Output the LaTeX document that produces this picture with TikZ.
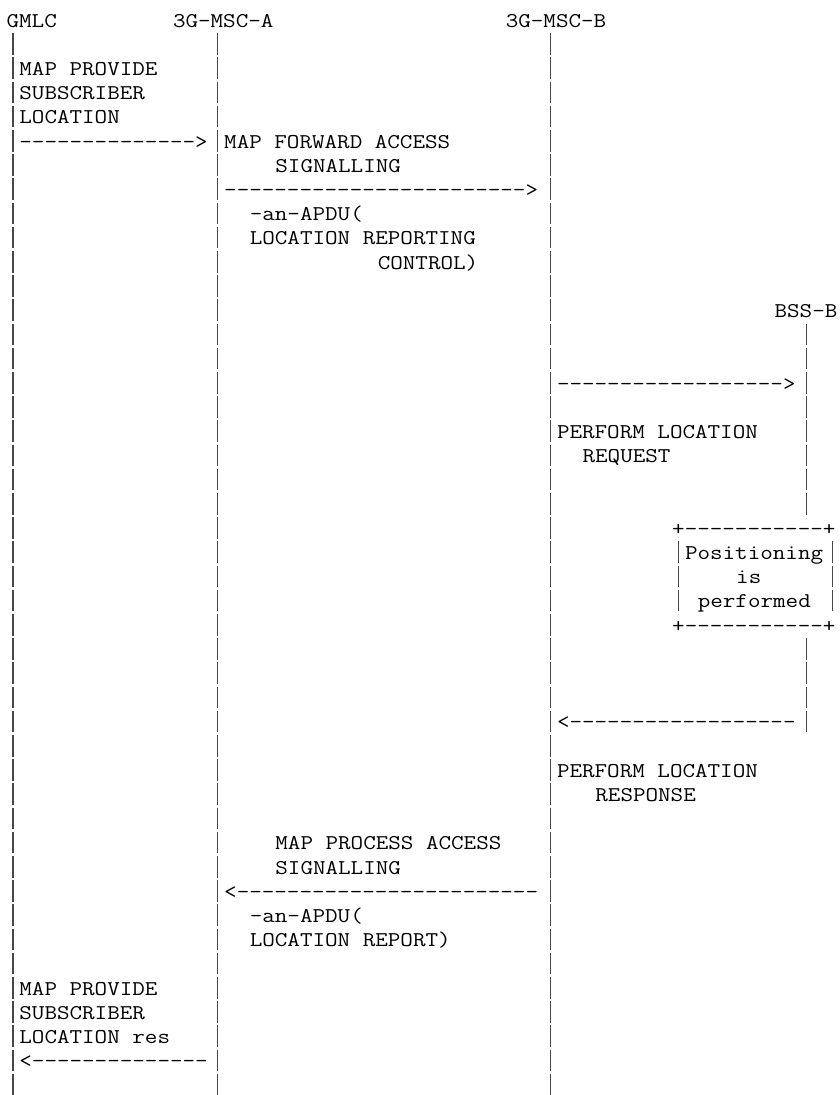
\documentclass[tikz,border=0pt]{standalone}
\usepackage{fontspec}
\usepackage{graphicx}
\newcommand\cw{12.8}
\newcommand\xo{6.6}
\newcommand\yo{27}
\newcommand\rp{24.2}
\tikzset{
  txt/.style={anchor=base west, inner sep=0pt, outer sep=0pt,
    font=\ttfamily\fontsize{21}{24}\selectfont, text=black},
  barline/.style={draw=black!72, line width=1.25pt}
}
\newcommand\tx[4]{\node[txt] (#1) at ({\xo+\cw*#2},{-(\yo+\rp*#3)}) {\scalebox{1.161}[1]{#4}};}
\newcommand\vb[2]{\draw[barline] ({\xo+\cw*(#1+0.5)},{-(\yo+\rp*#2-18)}) -- ++(0,-21.5);}
\begin{document}
\begin{tikzpicture}[x=1pt,y=1pt]
\fill[white] (0,0) rectangle (840,-1095);
\path[use as bounding box] (0,0) rectangle (840,-1095);
% headers
\tx{gmlc}{0}{0}{GMLC}
\tx{msca}{13}{0}{3G-MSC-A}
\tx{mscb}{39}{0}{3G-MSC-B}
\tx{bssb}{60}{12}{BSS-B}
% lifelines
\foreach \r in {1,...,44} {\vb{0}{\r}\vb{16}{\r}\vb{42}{\r}}
\foreach \r in {13,...,20} {\vb{62}{\r}}
\foreach \r in {26,...,29} {\vb{62}{\r}}
\foreach \r in {22,23,24} {\vb{52}{\r}\vb{64}{\r}}
% texts
\tx{m1a}{1}{2}{MAP PROVIDE}
\tx{m1b}{1}{3}{SUBSCRIBER}
\tx{m1c}{1}{4}{LOCATION}
\tx{a1}{1}{5}{-------------->}
\tx{m2a}{17}{5}{MAP FORWARD ACCESS}
\tx{m2b}{21}{6}{SIGNALLING}
\tx{a2}{17}{7}{------------------------>}
\tx{m2c}{19}{8}{-an-APDU(}
\tx{m2d}{19}{9}{LOCATION REPORTING}
\tx{m2e}{29}{10}{CONTROL)}
\tx{a3}{43}{15}{------------------>}
\tx{m3a}{43}{17}{PERFORM LOCATION}
\tx{m3b}{45}{18}{REQUEST}
\tx{boxt}{52}{21}{+-----------+}
\tx{p1}{53}{22}{Positioning}
\tx{p2}{57}{23}{is}
\tx{p3}{54}{24}{performed}
\tx{boxb}{52}{25}{+-----------+}
\tx{a4}{43}{29}{<------------------}
\tx{m4a}{43}{31}{PERFORM LOCATION}
\tx{m4b}{46}{32}{RESPONSE}
\tx{m5a}{21}{34}{MAP PROCESS ACCESS}
\tx{m5b}{21}{35}{SIGNALLING}
\tx{a5}{17}{36}{<------------------------}
\tx{m5c}{19}{37}{-an-APDU(}
\tx{m5d}{19}{38}{LOCATION REPORT)}
\tx{m6a}{1}{40}{MAP PROVIDE}
\tx{m6b}{1}{41}{SUBSCRIBER}
\tx{m6c}{1}{42}{LOCATION res}
\tx{a6}{1}{43}{<--------------}
\end{tikzpicture}
\end{document}
